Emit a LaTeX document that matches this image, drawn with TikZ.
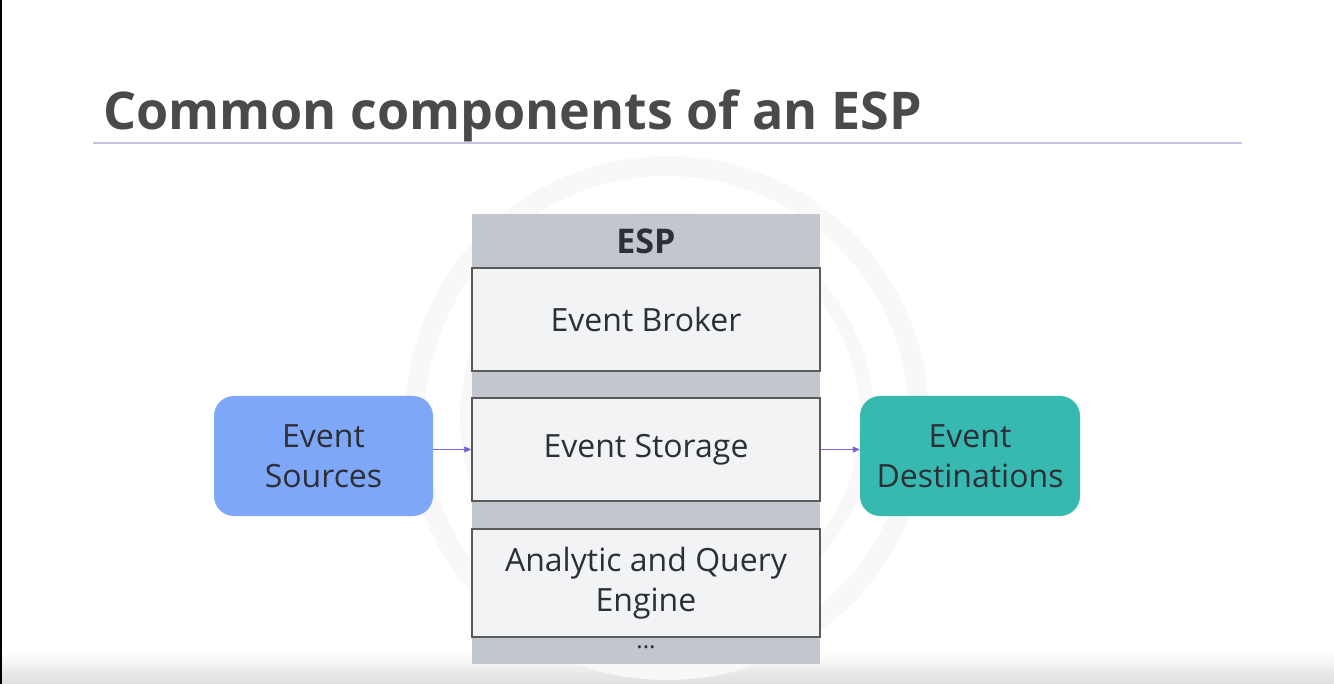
\documentclass[tikz,border=0pt]{standalone}
\usepackage{fontspec}
\setmainfont{Open Sans}
\usetikzlibrary{arrows.meta,calc}
\definecolor{titlegray}{HTML}{4A4A4A}
\definecolor{rulepurple}{HTML}{C9C2E3}
\definecolor{espgray}{HTML}{C2C6CD}
\definecolor{layerfill}{HTML}{F2F3F5}
\definecolor{layerline}{HTML}{5A5A5A}
\definecolor{srcblue}{HTML}{7FA7F7}
\definecolor{dstteal}{HTML}{37B9B2}
\definecolor{arrowpurple}{HTML}{7B5FD8}
\definecolor{inktext}{HTML}{2C2F36}
\definecolor{ringgray}{HTML}{F8F8F9}
\tikzset{
  layer/.style={draw=layerline, line width=1.4pt, fill=layerfill, minimum width=348pt,
    text=inktext, font=\fontsize{32}{40}\selectfont, align=center, inner sep=0pt},
  endpoint/.style={rounded corners=20pt, minimum width=219pt, minimum height=120pt,
    text=inktext, font=\fontsize{32}{40}\selectfont, align=center, inner sep=0pt},
  flow/.style={draw=arrowpurple, line width=0.8pt, -{Triangle[length=7pt,width=6pt]}},
}
\begin{document}
\begin{tikzpicture}[x=1pt,y=-1pt]
  % page frame
  \fill[white] (0,0) rectangle (1334,684);
  \useasboundingbox (0,0) rectangle (1334,684);
  % soft shading along the bottom edge
  \shade[top color=white, bottom color=black!13] (0,652) rectangle (1334,684);
  % faint watermark rings
  \draw[ringgray, line width=20pt] (667,418) circle (252pt);
  \draw[ringgray, line width=14pt] (667,418) circle (200pt);
  % left edge line
  \draw[black, line width=2pt] (1,0) -- (1,684);

  % heading
  \node[anchor=base west, inner sep=0pt, text=titlegray,
        font=\fontsize{52}{60}\selectfont\bfseries] (title) at (103,130)
        {Common components of an ESP};
  \coordinate (ruleL) at (93,143);
  \coordinate (ruleR) at (1242,143);
  \draw[rulepurple, line width=1.6pt] (ruleL) -- (ruleR);

  % ESP stack
  \node[fill=espgray, minimum width=348pt, minimum height=450pt, inner sep=0pt] (esp) at (646,439) {};
  \node[text=inktext, font=\fontsize{34}{40}\selectfont\bfseries] (esplabel) at (646,241) {ESP};
  \node[layer, minimum height=103pt] (broker) at (646,319.5) {Event Broker};
  \node[layer, minimum height=103pt] (storage) at (646,449.5) {Event Storage};
  \node[layer, minimum height=108pt] (engine) at (646,583) {Analytic and Query\\Engine};
  \node[text=inktext, font=\fontsize{24}{28}\selectfont, inner sep=0pt] (more) at (646,647) {...};

  % sources and destinations
  \node[endpoint, fill=srcblue] (src) at (323.5,456) {Event\\Sources};
  \node[endpoint, fill=dstteal, minimum width=220pt] (dst) at (970,456) {Event\\Destinations};

  \draw[flow] (src.east |- storage.west) -- (storage.west);
  \draw[flow] (storage.east) -- (dst.west |- storage.east);
\end{tikzpicture}
\end{document}
